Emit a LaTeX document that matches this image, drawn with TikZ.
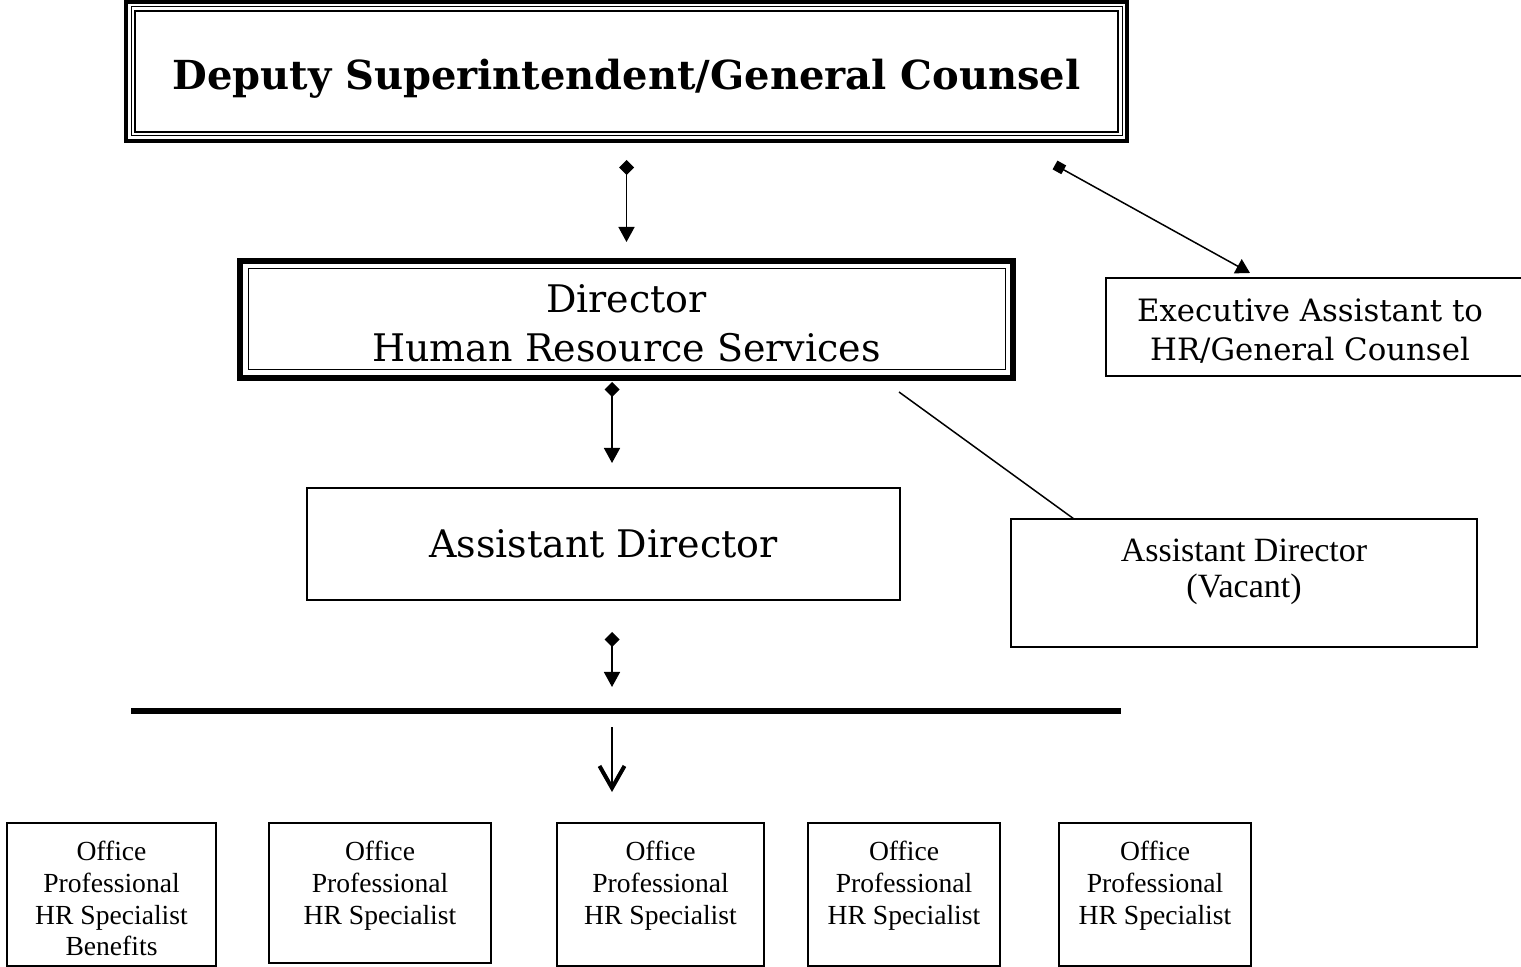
\documentclass[tikz,border=0pt]{standalone}
\usepackage{fontspec}
\setmainfont{DejaVu Serif}
\newfontfamily\boxfont{Liberation Serif}
\usetikzlibrary{arrows.meta,positioning}

\tikzset{
  post/.style={draw, line width=0.75pt, inner sep=0pt, outer sep=0pt},
  title/.style={inner sep=0pt, align=center},
  staff/.style={font=\boxfont\fontsize{13.8}{15.8}\selectfont, inner sep=0pt, align=center},
  link/.style={line width=0.75pt},
  down/.style={link, {Diamond[length=7.5pt,width=7.5pt]}-{Triangle[length=7.5pt,width=8pt]}}
}

\begin{document}
\begin{tikzpicture}[x=0.5pt,y=-0.5pt]
    \clip (0,0) rectangle (1521,967);

    % Deputy superintendent, triple frame
    \node[post, line width=2pt, minimum width=500.5pt, minimum height=69.5pt] (dep) at (626.5,71.5) {};
    \draw[line width=0.5pt] ([shift={(2.5pt,-2.5pt)}]dep.north west) rectangle ([shift={(-2.5pt,2.5pt)}]dep.south east);
    \draw[line width=1pt] ([shift={(4.5pt,-4.5pt)}]dep.north west) rectangle ([shift={(-4.5pt,4.5pt)}]dep.south east);
    \node[title, below=28.5pt of dep.north, font=\bfseries\fontsize{20}{24}\selectfont] (dep-t) {Deputy Superintendent/General Counsel};

    % Director, thick frame
    \node[post, line width=3pt, minimum width=386.5pt, minimum height=58.5pt] (dir) at (626.5,319.5) {};
    \draw[line width=0.5pt] ([shift={(4pt,-4pt)}]dir.north west) rectangle ([shift={(-4pt,4pt)}]dir.south east);
    \node[title, below=11.5pt of dir.north, font=\fontsize{19}{24.5}\selectfont] (dir-t) {Director\\Human Resource Services};

    % Assistant director
    \node[post, minimum width=296.5pt, minimum height=56pt, font=\fontsize{19}{23}\selectfont] (ad) at (603.5,544) {Assistant Director};

    % Executive assistant (runs off the right edge)
    \node[post, minimum width=217pt, minimum height=49pt] (ea) at (1323,327) {};
    \node[title, anchor=north, font=\fontsize{15.4}{19.5}\selectfont] (ea-t) at ([shift={(102pt,-10pt)}]ea.north west) {Executive Assistant to\\HR/General Counsel};

    % Vacant assistant director
    \node[post, minimum width=233pt, minimum height=64pt] (vac) at (1244,583) {};
    \node[staff, below=10pt of vac.north, font=\boxfont\fontsize{17}{18}\selectfont] (vac-t) {Assistant Director\\(Vacant)};

    % Office professionals
    \node[post, minimum width=104.5pt, minimum height=71.5pt] (s1) at (111.5,894.5) {};
    \node[post, minimum width=111pt, minimum height=70pt] (s2) at (380,893) {};
    \node[post, minimum width=103.5pt, minimum height=71.5pt] (s3) at (660.5,894.5) {};
    \node[post, minimum width=96pt, minimum height=71.5pt] (s4) at (904,894.5) {};
    \node[post, minimum width=96pt, minimum height=71.5pt] (s5) at (1155,894.5) {};
    \node[staff, below=9pt of s1.north] (s1-t) {Office\\Professional\\HR Specialist\\Benefits};
    \node[staff, below=9pt of s2.north] (s2-t) {Office\\Professional\\HR Specialist};
    \node[staff, below=9pt of s3.north] (s3-t) {Office\\Professional\\HR Specialist};
    \node[staff, below=9pt of s4.north] (s4-t) {Office\\Professional\\HR Specialist};
    \node[staff, below=9pt of s5.north] (s5-t) {Office\\Professional\\HR Specialist};

    % Reporting lines
    \coordinate (spine) at (612,0);
    \coordinate (bar-l) at (131,711);
    \coordinate (bar-r) at (1121,711);
    \draw[line width=3pt] (bar-l) -- (bar-r);

    \draw[down, shorten <=9.5pt, shorten >=9.5pt] (dep.south) -- (dir.north);
    \draw[down, shorten <=2pt, shorten >=12.5pt] (dir.south -| spine) -- (ad.north -| spine);
    \draw[down, shorten <=16pt, shorten >=12pt] (ad.south -| spine) -- (bar-l -| spine);
    \draw[line width=1pt, shorten <=8pt, shorten >=15.5pt, -{Straight Barb[length=11pt,width=12.5pt,line width=2pt]}] (bar-l -| spine) -- (s3.north -| spine);

    \draw[link, {Square[length=5pt,width=5pt]}-{Triangle[length=7pt,width=8pt]}] ([shift={(-36pt,-12pt)}]dep.south east) -- ([shift={(72pt,2.5pt)}]ea.north west);
    \draw[link] ([shift={(-57pt,-7pt)}]dir.south east) -- ([xshift=31.5pt]vac.north west);
\end{tikzpicture}
\end{document}
